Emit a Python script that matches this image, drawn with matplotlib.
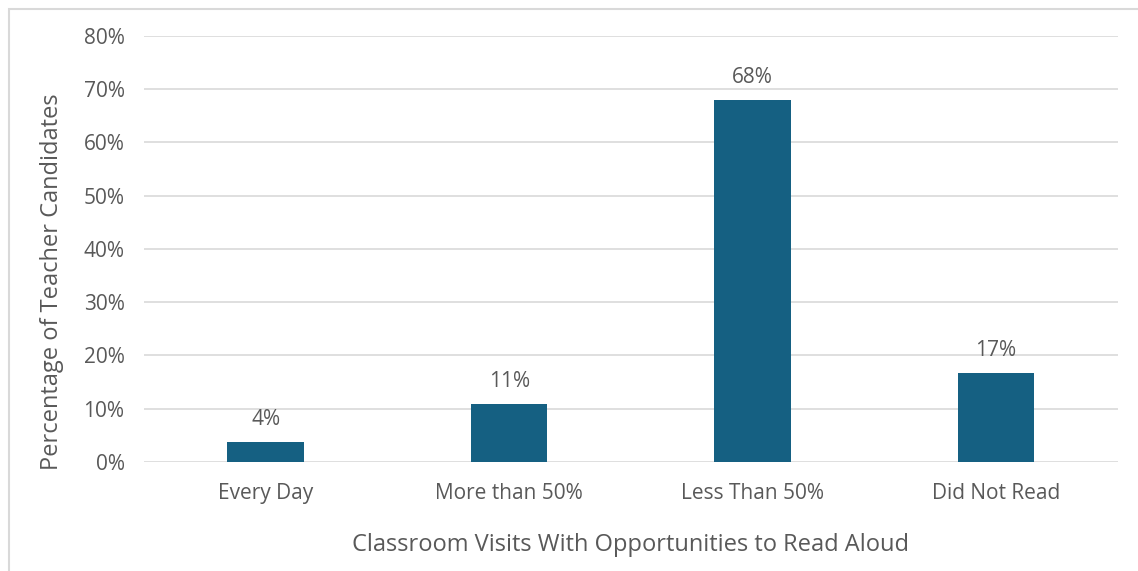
import matplotlib.pyplot as plt
from matplotlib.patches import Rectangle
from matplotlib.ticker import FuncFormatter
import numpy as np

categories = ['Every Day', 'More than 50%', 'Less Than 50%', 'Did Not Read']
values = [3.7, 10.8, 67.9, 16.7]
yticks = [0, 10, 20, 30, 40, 50, 60, 70, 80]

bar_color = '#156082'
text_color = '#595959'
grid_color = '#d9d9d9'

plt.rcParams['font.family'] = ['Open Sans', 'DejaVu Sans']

fig = plt.figure(figsize=(11.38, 5.71), dpi=100)
ax = fig.add_axes([0.1265, 0.1909, 0.8557, 0.7461])

x = np.arange(len(categories))
bars = ax.bar(x, values, width=0.315, color=bar_color, zorder=3)

for b, v in zip(bars, values):
    ax.annotate(f'{v:.0f}%', (b.get_x() + b.get_width() / 2, v),
                xytext=(0, 9), textcoords='offset points',
                ha='center', va='bottom', fontsize=15, color=text_color)

ax.set_xlim(-0.5, len(categories) - 0.5)
ax.set_ylim(0, 80)
ax.set_yticks(yticks)
ax.yaxis.set_major_formatter(FuncFormatter(lambda v, p: f'{v:.0f}%'))
ax.set_xticks(x)
ax.set_xticklabels(categories)
ax.tick_params(axis='both', length=0, labelsize=15, labelcolor=text_color)
ax.tick_params(axis='y', pad=14)
ax.tick_params(axis='x', pad=15)

ax.grid(axis='y', color=grid_color, linewidth=1.2, zorder=0)
for s in ax.spines.values():
    s.set_visible(False)

ax.set_xlabel('Classroom Visits With Opportunities to Read Aloud',
              fontsize=17, color=text_color, labelpad=21)
ax.set_ylabel('Percentage of Teacher Candidates',
              fontsize=17, color=text_color, va='center')
ax.yaxis.set_label_coords(-0.094, 0.4225)

# chart border (right and bottom edges fall outside the crop)
fig.patches.append(Rectangle((9 / 1138, -0.1), 1.2, 1 - 9 / 571 + 0.1,
                             transform=fig.transFigure, fill=False,
                             edgecolor='#d9d9d9', linewidth=1.5))

fig.savefig('out.png', dpi=100)
